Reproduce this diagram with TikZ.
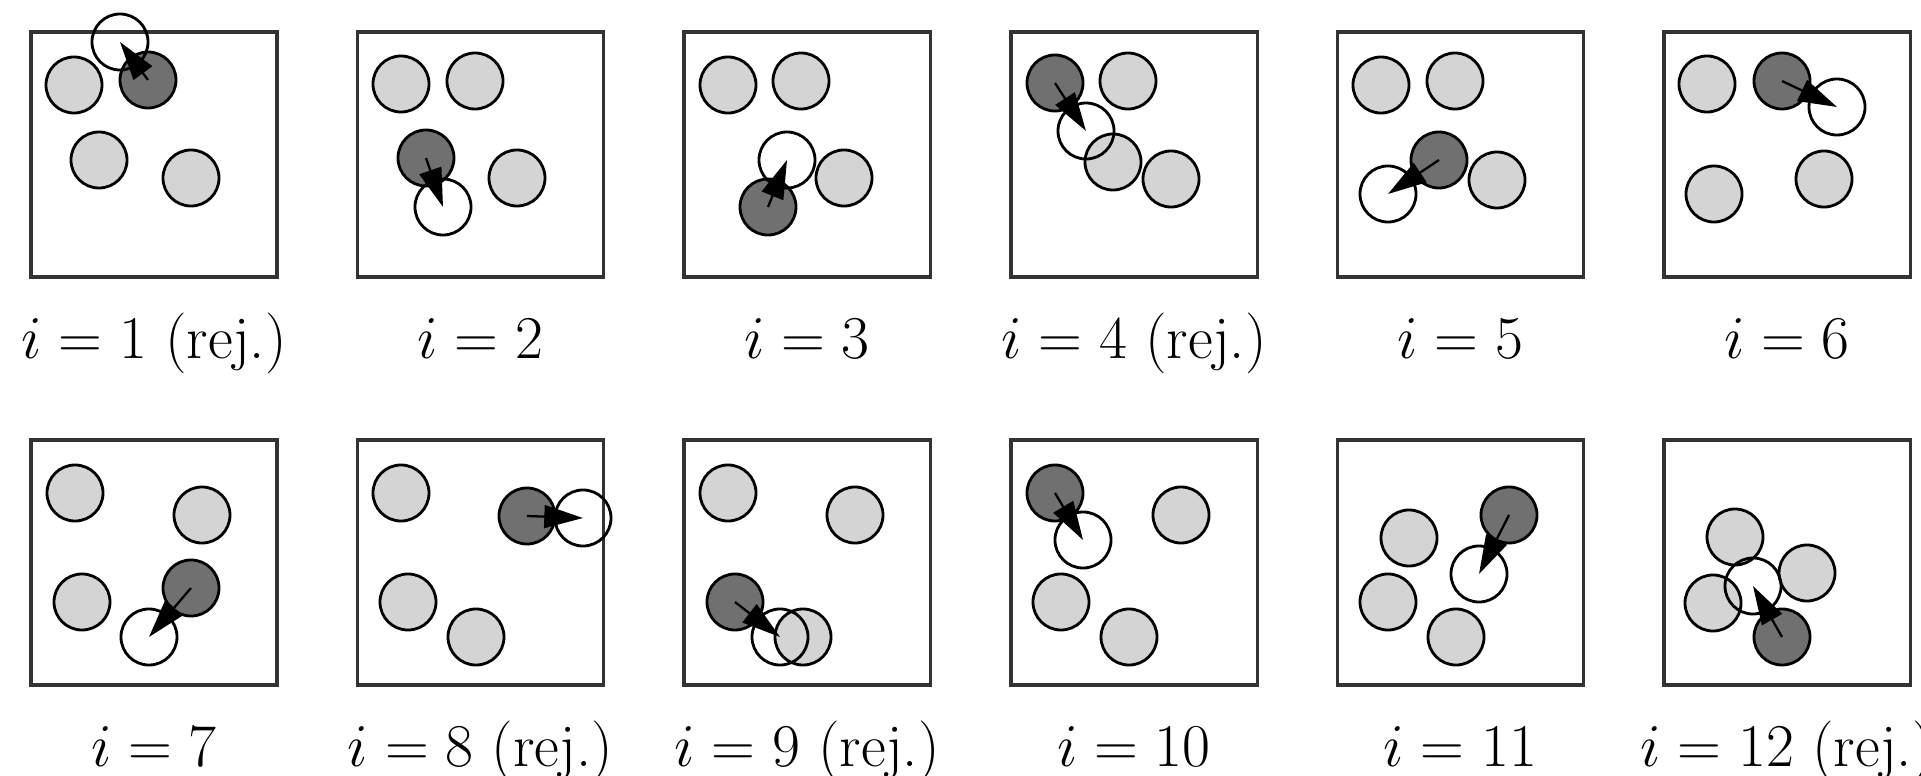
\documentclass[tikz,border=0pt]{standalone}
\usepackage{tikz}
\usetikzlibrary{arrows.meta, positioning}
\definecolor{idle}{RGB}{212,212,212}
\definecolor{picked}{RGB}{112,112,112}

\begin{document}
\begin{tikzpicture}[
    x=0.01cm, y=-0.01cm,
    node distance=0.33cm,
    frame/.style={rectangle, draw=black!80, line width=0.9pt, minimum width=2.46cm, minimum height=2.45cm, inner sep=0pt},
    disk/.style={circle, draw, line width=0.8pt, minimum size=0.56cm, inner sep=0pt, fill=#1},
    trial/.style={circle, draw, line width=0.8pt, minimum size=0.56cm, inner sep=0pt},
    lbl/.style={inner sep=0pt, text height=13pt, text depth=4pt, font=\LARGE},
    move/.style={line width=0.65pt, -{Triangle[length=11pt, width=6.5pt]}}
]
\useasboundingbox (0,0) rectangle (1921,776);

\node[frame] (f1) at (154,154.5) {};
\node[frame] (f2) at (480.5,154.5) {};
\node[frame] (f3) at (807,154.5) {};
\node[frame] (f4) at (1134,154.5) {};
\node[frame] (f5) at (1460.5,154.5) {};
\node[frame] (f6) at (1787,154.5) {};
\node[frame] (f7) at (154,562.5) {};
\node[frame] (f8) at (480.5,562.5) {};
\node[frame] (f9) at (807,562.5) {};
\node[frame] (f10) at (1134,562.5) {};
\node[frame] (f11) at (1460.5,562.5) {};
\node[frame] (f12) at (1787,562.5) {};

\node[lbl, below=of f1] (l1) {$i=1$ (rej.)};
\node[lbl, below=of f2] (l2) {$i=2$};
\node[lbl, below=of f3] (l3) {$i=3$};
\node[lbl, below=of f4] (l4) {$i=4$ (rej.)};
\node[lbl, below=of f5] (l5) {$i=5$};
\node[lbl, below=of f6] (l6) {$i=6$};
\node[lbl, below=of f7] (l7) {$i=7$};
\node[lbl, below=of f8] (l8) {$i=8$ (rej.)};
\node[lbl, below=of f9] (l9) {$i=9$ (rej.)};
\node[lbl, below=of f10] (l10) {$i=10$};
\node[lbl, below=of f11] (l11) {$i=11$};
\node[lbl, below=of f12] (l12) {$i=12$ (rej.)};

% i = 1
\node[disk=idle] (p1a) at (74,85) {};
\node[disk=idle] (p1b) at (99,160) {};
\node[disk=idle] (p1c) at (191,178) {};
\node[disk=picked] (d1) at (148,80) {};
\node[trial] (w1) at (120,42) {};
\draw[move] (d1.center) -- (w1.center);

% i = 2
\node[disk=idle] (p2a) at (401,84) {};
\node[disk=idle] (p2b) at (475,81) {};
\node[disk=idle] (p2c) at (517,178) {};
\node[disk=picked] (d2) at (426,158) {};
\node[trial] (w2) at (443,207) {};
\draw[move] (d2.center) -- (w2.center);

% i = 3
\node[disk=idle] (p3a) at (728,85) {};
\node[disk=idle] (p3b) at (801,81) {};
\node[disk=idle] (p3c) at (844,178) {};
\node[disk=picked] (d3) at (768,207) {};
\node[trial] (w3) at (787,160) {};
\draw[move] (d3.center) -- (w3.center);

% i = 4
\node[disk=idle] (p4a) at (1128,81) {};
\node[disk=idle] (p4b) at (1113,162) {};
\node[disk=idle] (p4c) at (1171,179) {};
\node[disk=picked] (d4) at (1055,83) {};
\node[trial] (w4) at (1086,131) {};
\draw[move] (d4.center) -- (w4.center);

% i = 5
\node[disk=idle] (p5a) at (1381,85) {};
\node[disk=idle] (p5b) at (1455,81) {};
\node[disk=idle] (p5c) at (1497,180) {};
\node[disk=picked] (d5) at (1439,160) {};
\node[trial] (w5) at (1388,194) {};
\draw[move] (d5.center) -- (w5.center);

% i = 6
\node[disk=idle] (p6a) at (1707,84) {};
\node[disk=idle] (p6b) at (1714,194) {};
\node[disk=idle] (p6c) at (1824,179) {};
\node[disk=picked] (d6) at (1782,81) {};
\node[trial] (w6) at (1837,107) {};
\draw[move] (d6.center) -- (w6.center);

% i = 7
\node[disk=idle] (p7a) at (75,493) {};
\node[disk=idle] (p7b) at (202,515) {};
\node[disk=idle] (p7c) at (82,602) {};
\node[disk=picked] (d7) at (191,588) {};
\node[trial] (w7) at (149,637) {};
\draw[move] (d7.center) -- (w7.center);

% i = 8
\node[disk=idle] (p8a) at (401,493) {};
\node[disk=idle] (p8b) at (408,602) {};
\node[disk=idle] (p8c) at (476,637) {};
\node[disk=picked] (d8) at (527,516) {};
\node[trial] (w8) at (583,518) {};
\draw[move] (d8.center) -- (w8.center);

% i = 9
\node[disk=idle] (p9a) at (728,493) {};
\node[disk=idle] (p9b) at (855,515) {};
\node[disk=idle] (p9c) at (803,637) {};
\node[disk=picked] (d9) at (735,602) {};
\node[trial] (w9) at (780,637) {};
\draw[move] (d9.center) -- (w9.center);

% i = 10
\node[disk=idle] (p10a) at (1181,515) {};
\node[disk=idle] (p10b) at (1061,602) {};
\node[disk=idle] (p10c) at (1129,637) {};
\node[disk=picked] (d10) at (1055,493) {};
\node[trial] (w10) at (1083,540) {};
\draw[move] (d10.center) -- (w10.center);

% i = 11
\node[disk=idle] (p11a) at (1409,538) {};
\node[disk=idle] (p11b) at (1388,602) {};
\node[disk=idle] (p11c) at (1456,637) {};
\node[disk=picked] (d11) at (1509,515) {};
\node[trial] (w11) at (1479,574) {};
\draw[move] (d11.center) -- (w11.center);

% i = 12
\node[disk=idle] (p12a) at (1735,537) {};
\node[disk=idle] (p12b) at (1807,573) {};
\node[disk=idle] (p12c) at (1713,603) {};
\node[disk=picked] (d12) at (1782,637) {};
\node[trial] (w12) at (1753,586) {};
\draw[move] (d12.center) -- (w12.center);
\end{tikzpicture}
\end{document}
